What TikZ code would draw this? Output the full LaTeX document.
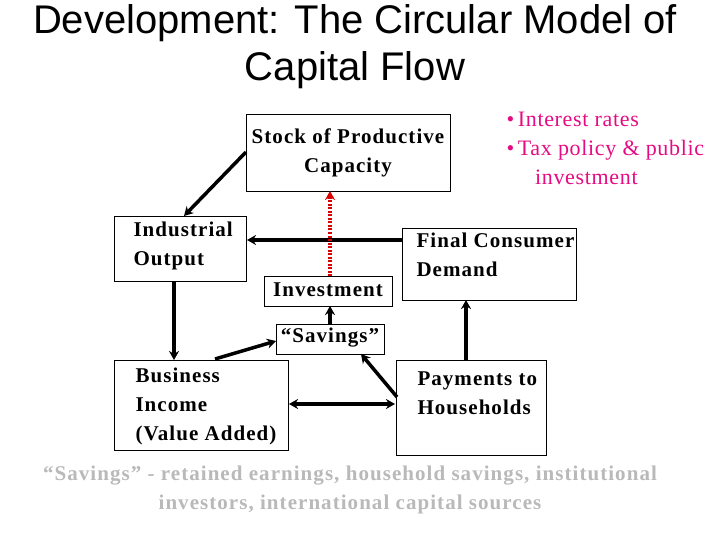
\documentclass[tikz,border=0pt]{standalone}
\usepackage{fontspec}
\setmainfont{Liberation Serif}
\newfontfamily\titlefont{Liberation Sans}
\newfontfamily\spaced[LetterSpace=5]{Liberation Serif}
\newfontfamily\spacedb[LetterSpace=3]{Liberation Serif}
\usetikzlibrary{arrows.meta}
\begin{document}
\begin{tikzpicture}[x=1pt,y=-1pt,
  box/.style={draw,line width=0.8pt,inner sep=0pt},
  lbl/.style={font=\spaced\fontsize{21}{29}\selectfont\bfseries,align=left,anchor=north west},
  arr/.style={line width=3.5pt,-{Stealth[length=9pt,width=10pt]}}]
\useasboundingbox (0,0) rectangle (720,540);
\node[font=\titlefont\fontsize{40}{47}\selectfont,align=center] (title) at (355,47) {Development: The Circular Model of\\Capital Flow};
% boxes
\draw[box] (246,114) rectangle (450,191);
\node[lbl,anchor=center,align=center] (stock) at (348,153) {Stock of Productive\\Capacity};
\coordinate (stockS) at (330,191);
\draw[box] (114,216) rectangle (246,281);
\node[lbl] (ind) at (130,218) {Industrial\\Output};
\draw[box] (264,276) rectangle (392,306);
\node[lbl,anchor=center] (inv) at (328,290) {Investment};
\draw[box] (402,228) rectangle (576,300);
\node[lbl] (fin) at (413,229) {Final Consumer\\Demand};
\draw[box] (276,324) rectangle (384,354);
\node[lbl,anchor=center] (sav) at (330,338) {“Savings”};
\draw[box] (114,360) rectangle (288,450);
\node[lbl] (bus) at (132,364) {Business\\Income\\(Value Added)};
\draw[box] (396,360) rectangle (546,455);
\node[lbl] (pay) at (414,368) {Payments to\\Households};
% magenta
\node[font=\spacedb\fontsize{22}{29}\selectfont,text=magenta!85!purple,align=left,anchor=north west] (mag) at (503,109) {\textbullet\,Interest rates\\\textbullet\,Tax policy \& public\\\hspace{1.3em}investment};
% connectors
\coordinate (a1) at (246,152); \coordinate (a2) at (184,216);
\draw[arr] (a1) -- (a2);
\coordinate (b1) at (174,282); \coordinate (b2) at (174,360);
\draw[arr] (b1) -- (b2);
\coordinate (c1) at (402,240); \coordinate (c2) at (247,240);
\draw[arr] (c1) -- (c2);
\coordinate (d1) at (330,276);
\draw[line width=3.5pt,red!85!black,dash pattern=on 2pt off 1.5pt,-{Stealth[length=9pt,width=10pt]}] (d1) -- (stockS);
\coordinate (e1) at (330,324); \coordinate (e2) at (330,306);
\draw[arr] (e1) -- (e2);
\coordinate (f1) at (215,359); \coordinate (f2) at (276,341);
\draw[arr] (f1) -- (f2);
\coordinate (g1) at (397,397); \coordinate (g2) at (361,354);
\draw[arr] (g1) -- (g2);
\coordinate (h1) at (466,360); \coordinate (h2) at (466,300);
\draw[arr] (h1) -- (h2);
\coordinate (i1) at (289,404); \coordinate (i2) at (395,404);
\draw[line width=3.5pt,{Stealth[length=9pt,width=10pt]}-{Stealth[length=9pt,width=10pt]}] (i1) -- (i2);
% footnote
\node[font=\spaced\fontsize{21}{29}\selectfont\bfseries,text=gray!55,align=center] (foot) at (350,490) {“Savings” - retained earnings, household savings, institutional\\investors, international capital sources};
\end{tikzpicture}
\end{document}
